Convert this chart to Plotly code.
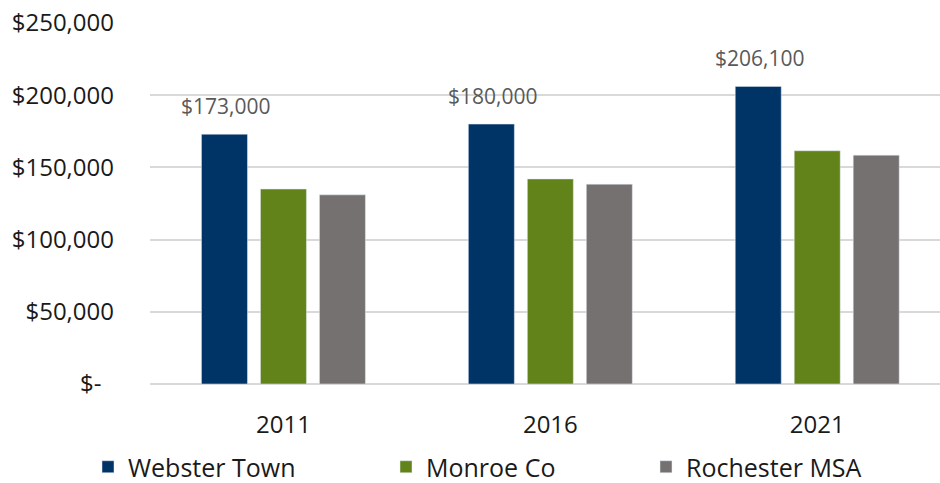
import plotly.graph_objects as go

years = ["2011", "2016", "2021"]
webster = [173000, 180000, 206100]
monroe = [135000, 142000, 161500]
rochester = [131000, 138400, 158500]
webster_labels = ["$173,000", "$180,000", "$206,100"]
y_ticks = [0, 50000, 100000, 150000, 200000, 250000]
y_ticktext = ["$-\u00a0\u00a0", "$50,000", "$100,000", "$150,000", "$200,000", "$250,000"]

FONT = "Open Sans"
colors = {"Webster Town": "#003366", "Monroe Co": "#62821A", "Rochester MSA": "#767171"}

fig = go.Figure()
fig.add_trace(go.Bar(x=years, y=webster, name="Webster Town", marker_color=colors["Webster Town"], legend="legend"))
fig.add_trace(go.Bar(x=years, y=monroe, name="Monroe Co", marker_color=colors["Monroe Co"], legend="legend2"))
fig.add_trace(go.Bar(x=years, y=rochester, name="Rochester MSA", marker_color=colors["Rochester MSA"], legend="legend3"))

for i, (v, t) in enumerate(zip(webster, webster_labels)):
    fig.add_annotation(x=i, y=v, text=t, showarrow=False, xref="x", yref="y",
                       xshift=-57, yshift=12, yanchor="bottom",
                       font=dict(family=FONT, size=21, color="#595959"))

leg_common = dict(orientation="h", yanchor="middle", xanchor="left",
                  xref="container", yref="container", y=(483 - 467) / 483,
                  font=dict(family=FONT, size=25, color="#1a1a1a"), bgcolor="rgba(0,0,0,0)")

fig.update_layout(
    width=940, height=483,
    margin=dict(l=150, r=0, t=23, b=99, autoexpand=False),
    paper_bgcolor="white", plot_bgcolor="white",
    showlegend=True,
    barmode="group", bargap=0.337, bargroupgap=0.22,
    font=dict(family=FONT, size=24, color="#1a1a1a"),
    legend=dict(x=88 / 940, **leg_common),
    legend2=dict(x=386 / 940, **leg_common),
    legend3=dict(x=646 / 940, **leg_common),
    xaxis=dict(type="category", range=[-0.5, 2.46], showgrid=False, showline=False, ticks="",
               tickfont=dict(family=FONT, size=24, color="#1a1a1a"), ticklabelstandoff=24),
    yaxis=dict(range=[0, 250000], tickvals=y_ticks, ticktext=y_ticktext,
               showgrid=True, gridcolor="#D9D9D9", gridwidth=1.5,
               zeroline=True, zerolinecolor="#D9D9D9", zerolinewidth=1.5,
               showline=False, ticks="", ticklabelstandoff=35,
               tickfont=dict(family=FONT, size=24, color="#1a1a1a")),
)

fig.write_html("out.html", config={"displayModeBar": False},
               post_script="document.body.style.margin='0';")
